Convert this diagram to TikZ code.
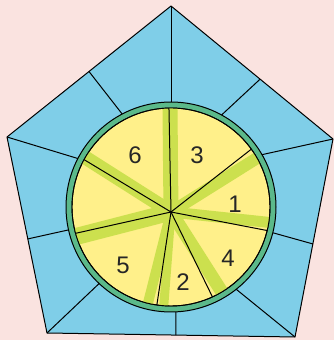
\documentclass[tikz,border=0pt]{standalone}
\usepackage{fontspec}
\setmainfont{Liberation Sans}
\usetikzlibrary{calc}
\definecolor{bgpink}{HTML}{FAE3E0}
\definecolor{tileblue}{HTML}{7FCEE8}
\definecolor{ringgreen}{HTML}{5BB98A}
\definecolor{dialyellow}{HTML}{FFF08A}
\definecolor{bandgreen}{HTML}{CCE04E}
\tikzset{
  frame/.style={draw=black, line width=1pt, fill=tileblue, line join=round},
  seam/.style={draw=black, line width=1pt},
  ring/.style={draw=black, line width=1pt, fill=ringgreen},
  dial/.style={draw=black, line width=0.9pt, fill=dialyellow},
  band/.style={draw=bandgreen, line width=#1},
  band/.default=11pt,
  spoke/.style={draw=black, line width=1pt},
  digit/.style={font=\fontsize{24}{24}\selectfont, text=black!85, inner sep=0pt}
}

\begin{document}
\begin{tikzpicture}[x=1pt, y=1pt]
    \fill[bgpink] (0,0) rectangle (334,340);
    \useasboundingbox (0,0) rectangle (334,340);

    % pentagon frame
    \coordinate (T) at (171,334);
    \coordinate (R) at (333,201);
    \coordinate (BR) at (295,3);
    \coordinate (BL) at (47,7);
    \coordinate (L) at (7,203);
    \path[frame] (T) -- (R) -- (BR) -- (BL) -- (L) -- cycle;

    \coordinate (C) at (171,133);
    \coordinate (H) at (171,128);

    % seams from frame to ring
    \draw[seam] (T) -- ($(C)+(90:105)$);
    \draw[seam] ($(L)!0.5!(T)$) -- ($(C)+(117.7:105)$);
    \draw[seam] ($(T)!0.55!(R)$) -- ($(C)+(61.2:105)$);
    \draw[seam] (R) -- ($(C)+(29.9:105)$);
    \draw[seam] (L) -- ($(C)+(152.5:105)$);
    \draw[seam] ($(L)!0.52!(BL)$) -- ($(C)+(192.6:105)$);
    \draw[seam] ($(R)!0.53!(BR)$) -- ($(C)+(-14.2:105)$);
    \draw[seam] (BL) -- ($(C)+(226.8:105)$);
    \draw[seam] (BR) -- ($(C)+(-51.6:105)$);
    \draw[seam] ($(BL)!0.52!(BR)$) -- ($(C)+(-87.4:105)$);

    % ring and dial
    \draw[ring] (C) circle (105);
    \draw[dial] (C) circle (99);

    \begin{scope}
        \clip (C) circle (99);
        % green bands
        \draw[band=15pt] (H) -- ($(H)!1.2!(170,230)$);
        \draw[band=12pt] (H) -- ($(H)!1.2!(254,180)$);
        \draw[band=11pt] (H) -- ($(H)!1.2!(265,118)$);
        \draw[band=13pt] (H) -- ($(H)!1.2!(220,51)$);
        \draw[band=10pt] (H) -- ($(H)!1.2!(148,37)$);
        \draw[band=9pt] (H) -- ($(H)!1.2!(164,37)$);
        \draw[band=17pt] (H) -- ($(H)!1.2!(78,104)$);
        \draw[band=14pt] (H) -- ($(H)!1.2!(86,182)$);
        % spokes
        \draw[spoke] (H) -- ($(H)!1.1!(169,230)$);
        \draw[spoke] (H) -- ($(H)!1.1!(249,189)$);
        \draw[spoke] (H) -- ($(H)!1.1!(267,109.5)$);
        \draw[spoke] (H) -- ($(H)!1.1!(212,44)$);
        \draw[spoke] (H) -- ($(H)!1.1!(157,36)$);
        \draw[spoke] (H) -- ($(H)!1.1!(77,107)$);
        \draw[spoke] (H) -- ($(H)!1.1!(83,181)$);
    \end{scope}
    \draw[line width=0.9pt] (C) circle (99);

    % sector numbers
    \node[digit] (n6) at (135,185) {6};
    \node[digit] (n3) at (197,185) {3};
    \node[digit] (n1) at (235,136) {1};
    \node[digit] (n4) at (228,82) {4};
    \node[digit] (n2) at (183,58) {2};
    \node[digit] (n5) at (123,75) {5};
\end{tikzpicture}
\end{document}
